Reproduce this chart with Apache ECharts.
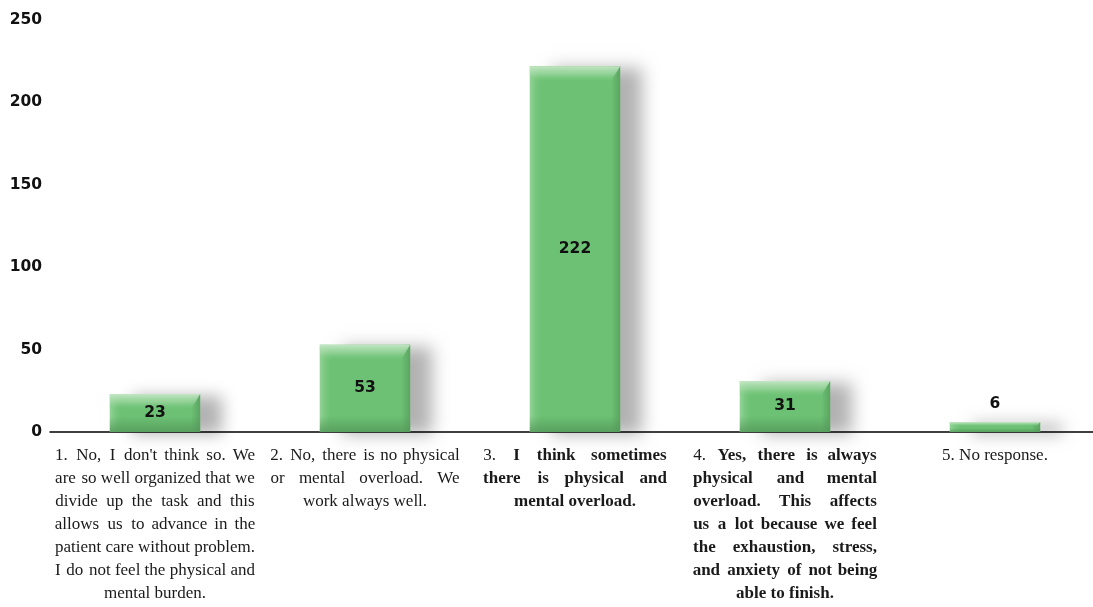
<!DOCTYPE html>
<html>
<head>
<meta charset="utf-8">
<script src="https://cdn.jsdelivr.net/npm/echarts@6/dist/echarts.min.js"></script>
<style>
  html, body { margin: 0; padding: 0; background: #fff; }
  #chart { width: 1093px; height: 607px; }
</style>
</head>
<body>
<div id="chart"></div>
<script>
// Answer categories (line breaks as laid out under the axis)
const categories = [
  "1. No, I don't think so. We\nare so well organized that we\ndivide up the task and this\nallows us to advance in the\npatient care without problem.\nI do not feel the physical and\nmental burden.",
  "2. No, there is no physical\nor mental overload. We\nwork always well.",
  "3. I think sometimes\nthere is physical and\nmental overload.",
  "4. Yes, there is always\nphysical and mental\noverload. This affects\nus a lot because we feel\nthe exhaustion, stress,\nand anxiety of not being\nable to finish.",
  "5. No response."
];
// Categories whose text (after the number) is set in bold
const boldCategories = [false, false, true, true, false];
// Number of responses per answer
const responses = [23, 53, 222, 31, 6];
// Y axis range
const yMin = 0, yMax = 250, yStep = 50;

// Text block widths used to justify each category label (px)
const labelBlockWidths = [200, 189, 184, 184, 0];

const SERIF = '"Liberation Serif", "DejaVu Serif", serif';
const SANS_BOLD = '"DejaVu Sans", "Liberation Sans", Arial, sans-serif';
const LABEL_SIZE = 17;
const HAIR = '\u200A';

const measureCtx = document.createElement('canvas').getContext('2d');
function textWidth(text, bold) {
  measureCtx.font = (bold ? 'bold ' : 'normal ') + LABEL_SIZE + 'px ' + SERIF;
  return measureCtx.measureText(text).width;
}

// Split a line into styled runs: [{text, bold}]
function lineRuns(line, lineIndex, catIndex) {
  if (!boldCategories[catIndex]) return [{ text: line, bold: false }];
  if (lineIndex === 0) {
    const m = line.match(/^(\d+\.\s)(.*)$/);
    return [{ text: m[1], bold: false }, { text: m[2], bold: true }];
  }
  return [{ text: line, bold: true }];
}

// Widen the word gaps of a line with hair spaces so it fills the block width
function justifyRuns(runs, target) {
  const natural = runs.reduce((s, r) => s + textWidth(r.text, r.bold), 0);
  const gaps = [];
  runs.forEach((r, ri) => {
    for (let i = 0; i < r.text.length; i++) if (r.text[i] === ' ' && !(ri === runs.length - 1 && i === r.text.length - 1)) gaps.push([ri, i]);
  });
  if (!gaps.length || natural >= target) return runs;
  const hs = textWidth(HAIR, false);
  let total = Math.round((target - natural) / hs);
  const per = gaps.map((_, gi) => Math.floor(total / gaps.length) + (gi < total % gaps.length ? 1 : 0));
  const out = runs.map(r => r.text.split(''));
  gaps.forEach(([ri, ci], gi) => { out[ri][ci] = ' ' + HAIR.repeat(per[gi]); });
  return runs.map((r, ri) => ({ text: out[ri].join(''), bold: r.bold }));
}

function formatCategory(value, index) {
  const lines = value.split('\n');
  return lines.map((line, li) => {
    let runs = lineRuns(line, li, index);
    if (li < lines.length - 1 && labelBlockWidths[index]) runs = justifyRuns(runs, labelBlockWidths[index]);
    return runs.map(r => '{' + (r.bold ? 'b' : 'r') + '|' + r.text + '}').join('');
  }).join('\n');
}

function renderBar(params, api) {
  const idx = api.value(0);
  const val = api.value(1);
  const top = api.coord([idx, val]);
  const base = api.coord([idx, 0]);
  const w = api.size([1, 0])[0] * 0.43;
  const x0 = top[0] - w / 2, x1 = top[0] + w / 2;
  const t = top[1], b = base[1];
  const h = b - t;
  const bv = Math.min(16, h / 2.4);
  const body = '#6cc174';
  const grad = (x, y, x2, y2, stops) => new echarts.graphic.LinearGradient(x, y, x2, y2,
    stops.map((c, i) => ({ offset: i / (stops.length - 1), color: c })));
  const children = [
    {
      type: 'rect',
      shape: { x: x0, y: t, width: w, height: h },
      style: {
        fill: body,
        shadowColor: 'rgba(0,0,0,0.3)',
        shadowBlur: 16,
        shadowOffsetX: 22,
        shadowOffsetY: 2
      }
    },
    // soft light left edge
    {
      type: 'rect',
      shape: { x: x0, y: t, width: Math.min(12, w / 4), height: h },
      style: { fill: grad(0, 0, 1, 0, ['rgba(160,218,162,0.75)', 'rgba(120,200,126,0)']) }
    },
    // soft dark right edge
    {
      type: 'rect',
      shape: { x: x1 - 9, y: t, width: 9, height: h },
      style: { fill: grad(0, 0, 1, 0, ['rgba(88,160,94,0)', 'rgba(88,160,94,0.85)']) }
    },
    // soft dark bottom edge
    {
      type: 'rect',
      shape: { x: x0, y: b - bv, width: w, height: bv },
      style: { fill: grad(0, 0, 0, 1, ['rgba(84,152,90,0)', 'rgba(84,152,90,0.8)']) }
    },
    // light top band
    {
      type: 'polygon',
      shape: { points: [[x0, t], [x1, t], [x1 - bv * 0.6, t + bv], [x0, t + bv]] },
      style: { fill: grad(0, 0, 0, 1, ['rgba(200,232,200,0.95)', 'rgba(170,220,172,0.6)', 'rgba(120,200,126,0)']) }
    }
  ];
  const small = h < 22;
  children.push({
    type: 'text',
    style: {
      text: String(val),
      x: top[0],
      y: small ? t - 18 : (t + b) / 2,
      align: 'center',
      verticalAlign: 'middle',
      fill: '#111',
      font: 'bold 15.5px ' + SANS_BOLD
    }
  });
  return { type: 'group', children: children };
}

const chart = echarts.init(document.getElementById('chart'), null, { renderer: 'canvas' });
chart.setOption({
  animation: false,
  backgroundColor: '#ffffff',
  grid: { left: 50, right: -7, top: 20, bottom: 175, containLabel: false, outerBoundsMode: 'none' },
  xAxis: {
    type: 'category',
    data: categories,
    axisLine: { show: true, lineStyle: { color: '#000', width: 1.5 } },
    axisTick: { show: false },
    splitLine: { show: false },
    axisLabel: {
      interval: 0,
      margin: 12,
      hideOverlap: false,
      color: '#1a1a1a',
      formatter: formatCategory,
      rich: {
        r: { fontFamily: SERIF, fontSize: LABEL_SIZE, lineHeight: 23, color: '#1a1a1a', align: 'center' },
        b: { fontFamily: SERIF, fontSize: LABEL_SIZE, lineHeight: 23, fontWeight: 'bold', color: '#1a1a1a', align: 'center' }
      }
    }
  },
  yAxis: {
    type: 'value',
    min: yMin,
    max: yMax,
    interval: yStep,
    axisLine: { show: false },
    axisTick: { show: false },
    splitLine: { show: false },
    axisLabel: {
      margin: 8,
      color: '#111',
      fontFamily: SANS_BOLD,
      fontWeight: 'bold',
      fontSize: 15.5
    }
  },
  series: [{
    type: 'custom',
    renderItem: renderBar,
    data: responses.map((v, i) => [i, v]),
    encode: { x: 0, y: 1 },
    clip: false
  }]
});
</script>
</body>
</html>
